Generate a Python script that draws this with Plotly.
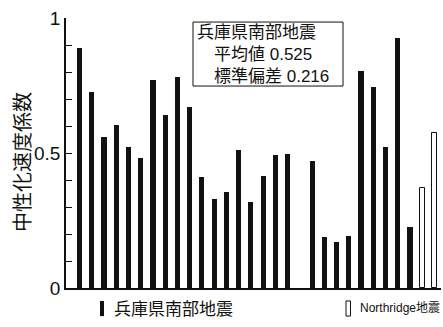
import plotly.graph_objects as go

# ---- data ----
hyogo_values = [0.888, 0.725, 0.558, 0.605, 0.523, 0.481, 0.771, 0.641, 0.783,
                0.669, 0.411, 0.330, 0.354, 0.511, 0.317, 0.415, 0.493, 0.497,
                0.470, 0.190, 0.170, 0.193, 0.805, 0.743, 0.521, 0.925, 0.227]
hyogo_group_sizes = [18, 9]          # two groups of stations separated by a gap
northridge_values = [0.371, 0.573]
y_tick_values = [round(0.1 * i, 1) for i in range(11)]
y_tick_labels = {0.0: "0", 0.5: "0.5", 1.0: "1"}
box_lines = ["兵庫県南部地震", "\u3000平均値 0.525", "\u3000標準偏差 0.216"]
legend_hyogo = "兵庫県南部地震"
legend_northridge = "Northridge地震"
y_title = "中性化速度係数"

# positions: consecutive slots, one empty slot between groups
hyogo_x = []
slot = 0
for size in hyogo_group_sizes:
    hyogo_x += list(range(slot, slot + size))
    slot += size + 1
slot -= 1
northridge_x = list(range(slot, slot + len(northridge_values)))

FONT_LAT = "Liberation Sans, Arial, sans-serif"
FONT_MIX = "Liberation Sans, Noto Sans CJK JP, sans-serif"
FONT_CJK = "Noto Sans CJK JP, Liberation Sans, sans-serif"

fig = go.Figure()
fig.add_trace(go.Bar(x=hyogo_x, y=hyogo_values, width=0.42, name=legend_hyogo,
                     marker=dict(color="#111111", line=dict(width=0)),
                     showlegend=False))
fig.add_trace(go.Bar(x=northridge_x, y=northridge_values, width=0.45,
                     name=legend_northridge,
                     marker=dict(color="white", line=dict(color="#111111", width=1)),
                     showlegend=False))

fig.update_layout(
    width=443, height=327,
    margin=dict(l=66, r=2, t=18, b=39),
    paper_bgcolor="white", plot_bgcolor="white",
    bargap=0,
    font=dict(family=FONT_LAT, color="#111111"),
    xaxis=dict(range=[-1.103, 29.53], showgrid=False, zeroline=False,
               showticklabels=False, ticks="", showline=True,
               linecolor="#111111", linewidth=1.5, fixedrange=True),
    yaxis=dict(range=[0, 1], showgrid=False, zeroline=False,
               tickvals=y_tick_values,
               ticktext=[y_tick_labels.get(v, "") for v in y_tick_values],
               ticks="inside", ticklen=6, tickwidth=1, tickcolor="#111111",
               showline=True, linecolor="#111111", linewidth=1.5,
               tickfont=dict(size=19, family=FONT_LAT, color="#111111")),
)

# y-axis title
fig.add_annotation(x=0, y=0.467, xref="paper", yref="paper", xshift=-44,
                   text=y_title, textangle=-90, showarrow=False,
                   xanchor="center", yanchor="middle",
                   font=dict(size=20, family=FONT_CJK, color="#111111"))

# statistics box
fig.add_shape(type="rect", xref="paper", yref="paper",
              x0=0.3387, x1=0.7387, y0=0.748, y1=0.985,
              line=dict(color="#111111", width=1), fillcolor="white")
fig.add_annotation(x=0.346, y=0.8665, xref="paper", yref="paper",
                   text="<br>".join(box_lines), align="left",
                   showarrow=False, xanchor="left", yanchor="middle",
                   borderpad=0,
                   font=dict(size=17, family=FONT_MIX, color="#111111"))

# custom legend below the axis
fig.add_shape(type="rect", xref="paper", yref="paper",
              x0=0.0907, x1=0.1013, y0=-0.104, y1=-0.048,
              line=dict(width=0), fillcolor="#111111")
fig.add_annotation(x=0.1227, y=-0.074, xref="paper", yref="paper",
                   text=legend_hyogo, showarrow=False, xanchor="left",
                   yanchor="middle",
                   font=dict(size=17, family=FONT_CJK, color="#111111"))
fig.add_shape(type="rect", xref="paper", yref="paper",
              x0=0.7467, x1=0.7587, y0=-0.104, y1=-0.048,
              line=dict(color="#111111", width=1), fillcolor="white")
fig.add_annotation(x=0.7787, y=-0.074, xref="paper", yref="paper",
                   text=legend_northridge, showarrow=False, xanchor="left",
                   yanchor="middle",
                   font=dict(size=12, family=FONT_MIX, color="#111111"))

fig.write_html("out.html", config={"displayModeBar": False},
               post_script="document.body.style.margin='0';"
                           "document.body.style.overflow='hidden';")
